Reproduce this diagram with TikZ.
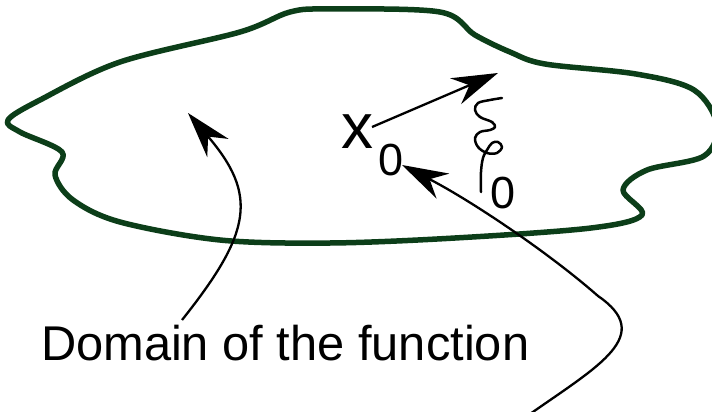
\documentclass[tikz,border=0pt]{standalone}
\usepackage{fontspec}
\setmainfont{Liberation Sans}
\usetikzlibrary{arrows.meta}
\definecolor{domgreen}{RGB}{12,62,25}
\begin{document}
\begin{tikzpicture}[x=1pt,y=-1pt,
  outline/.style={draw=domgreen,line width=5.5pt,line join=round},
  pointer/.style={draw=black,line width=2.3pt,-{Stealth[length=46pt,width=28pt,inset=15pt]}},
  glyph/.style={draw=black,line width=2.5pt,line cap=round,line join=round},
  txt/.style={inner sep=0pt,outer sep=0pt,anchor=base west}]
\useasboundingbox (0,0) rectangle (712,412);
% domain outline
\draw[outline] plot[smooth cycle,tension=0.55] coordinates {
  (8,120) (40,100) (120,62) (240,32) (290,12) (330,9) (440,12) (475,35)
  (510,52) (545,64) (636,74) (694,90) (717,125) (704,156) (647,170)
  (623,190) (642,215) (591,228) (455,238) (330,243) (220,240) (120,222)
  (73,200) (55,175) (62,152) (20,132)};
% texts
\node[txt,font=\fontsize{48.8}{50}\selectfont] (dom) at (41,360) {Domain of the function};
\node[txt,font=\fontsize{64}{66}\selectfont] (x) at (341,148) {x};
\node[txt,font=\fontsize{45}{46}\selectfont] (xsub) at (378,175) {0};
\node[txt,font=\fontsize{45}{46}\selectfont] (psub) at (490,208) {0};
% the phi-like glyph
\draw[glyph] plot[smooth,tension=0.6] coordinates {
  (502,98) (490,100) (478,103) (475,110) (480,117) (492,122) (495,127)
  (490,130) (480,132) (475,138) (478,147) (487,153) (497,153) (502,147)
  (498,142) (492,143) (487,150) (483,158) (481,172) (481,192)};
% arrows
\coordinate (a1s) at (372,127);
\coordinate (a1e) at (498,73);
\draw[pointer] (a1s) -- (a1e);
\coordinate (d0) at (182,320);
\coordinate (d1) at (188,113);
\draw[pointer] (d0) .. controls (252,232) and (258,195) .. (d1);
\coordinate (b0) at (530,414);
\coordinate (bm) at (598,296);
\coordinate (b1) at (402,165);
\draw[pointer] (b0) .. controls (600,365) and (655,335) .. (bm)
   .. controls (548,252) and (470,200) .. (b1);
\end{tikzpicture}
\end{document}
